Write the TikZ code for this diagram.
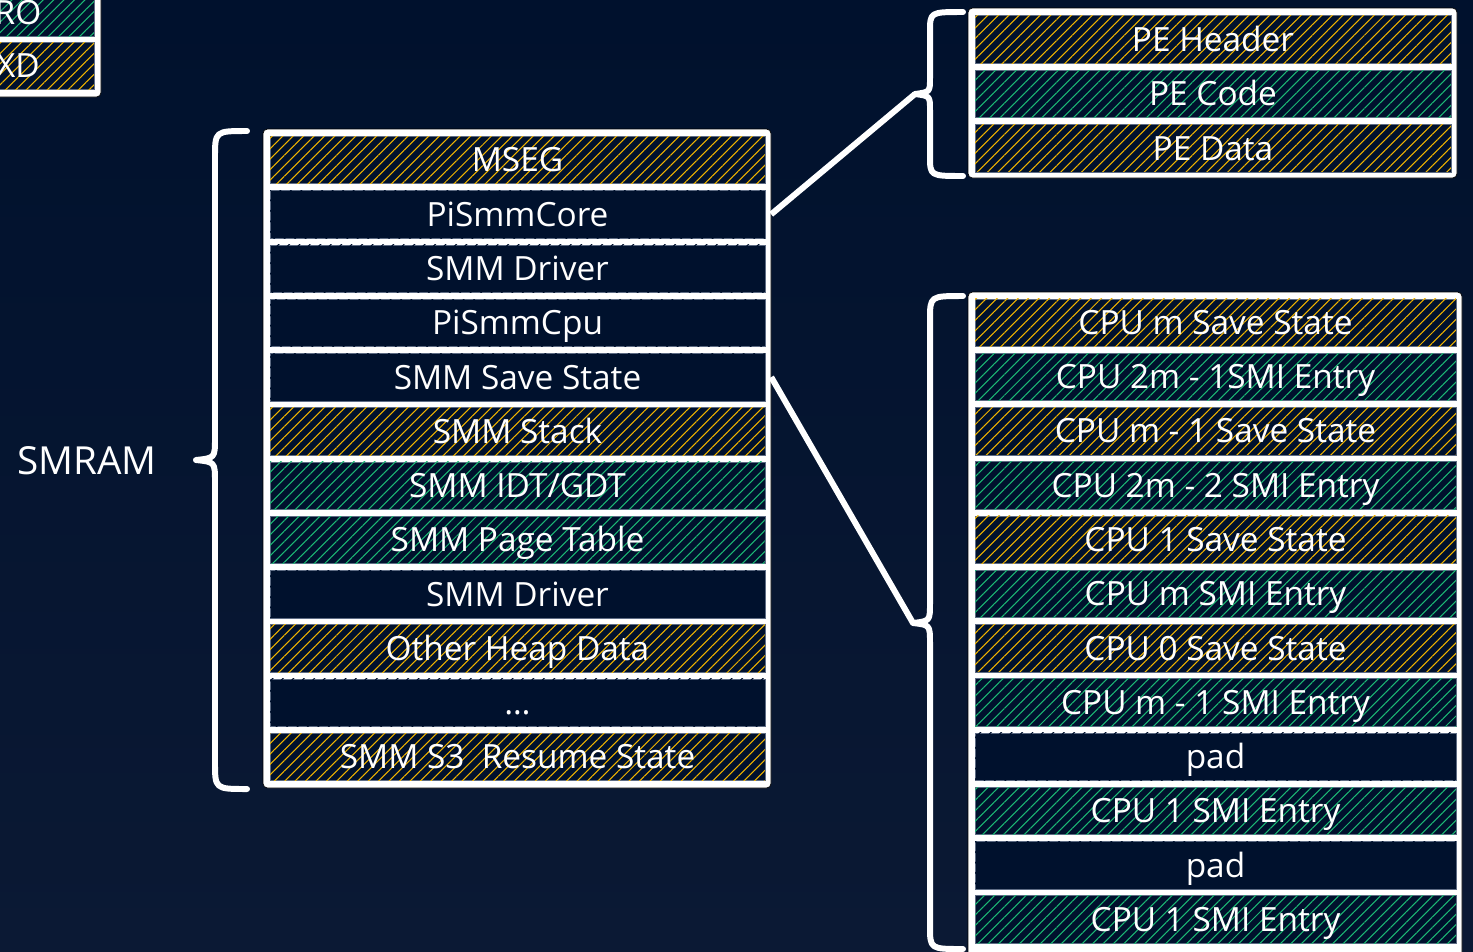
\documentclass[tikz,border=0pt]{standalone}
\usepackage{fontspec}
\setmainfont{Open Sans}
\usetikzlibrary{patterns.meta}
\definecolor{navy}{HTML}{00112D}
\definecolor{navylow}{HTML}{0B1934}
\definecolor{xdline}{HTML}{F0B400}
\definecolor{roline}{HTML}{1CB874}
\definecolor{celledge}{HTML}{5E6C84}

\tikzset{
  cell/.style={draw=celledge,line width=0.3pt,fill=navy,text=white,
    font=\fontsize{19}{21}\selectfont,minimum height=0.95cm,inner sep=0pt,
    text height=13.6pt,text depth=0pt,
    postaction={pattern={Lines[angle=45,distance=4.2pt,line width=0.6pt]},pattern color=#1}},
  cell/.default=navy,
  frame/.style={fill=white,rounded corners=2.5pt},
  brace/.style={draw=white,line width=3.4pt,line cap=round,line join=round},
  link/.style={draw=white,line width=3.4pt},
}

\begin{document}
\begin{tikzpicture}[x=0.02cm,y=-0.02cm]
  \useasboundingbox (0,0) rectangle (1473,951);
  \shade[top color=navy,bottom color=navylow] (0,0) rectangle (1473,951);
  \clip (0,0) rectangle (1473,951);

  % cut-off legend, top left
  \draw[frame] (-60,-40) rectangle (101,97);
  \node[cell=roline,minimum width=3.04cm] (ro) at (18,13) {RO};
  \node[cell=xdline,minimum width=3.04cm] (xd) at (18,66) {XD};

  % SMRAM map
  \node[text=white,font=\fontsize{22}{26}\selectfont] (smram) at (87,461) {SMRAM};
  \draw[brace] (247,131) .. controls (215,131) .. (215,158) -- (215,438)
    .. controls (215,458) .. (196,460) .. controls (215,462) .. (215,482)
    -- (215,762) .. controls (215,789) .. (247,789);
  \draw[frame] (263,129) rectangle (771,788);
  \foreach \t/\c [count=\i] in {MSEG/xdline,PiSmmCore/navy,SMM Driver/navy,
      PiSmmCpu/navy,SMM Save State/navy,SMM Stack/xdline,{SMM IDT/GDT}/roline,
      SMM Page Table/roline,SMM Driver/navy,Other Heap Data/xdline,{\dots}/navy,
      SMM S3~ Resume State/xdline}
    \node[cell=\c,minimum width=9.9cm] (L\i) at (517.5,{160+(\i-1)*54.27}) {\t};

  % PE image
  \draw[brace] (963,12) .. controls (930,12) .. (930,32) -- (930,78)
    .. controls (930,92) .. (915,94) coordinate (petip)
    .. controls (930,96) .. (930,110) -- (930,156) .. controls (930,176) .. (963,176);
  \draw[frame] (968,8) rectangle (1457,178);
  \foreach \t/\c [count=\i] in {PE Header/xdline,PE Code/roline,PE Data/xdline}
    \node[cell=\c,minimum width=9.52cm] (P\i) at (1213,{39.5+(\i-1)*54.3}) {\t};

  % save state area
  \draw[brace] (963,296) .. controls (930,296) .. (930,320) -- (930,603)
    .. controls (930,621) .. (913,623) coordinate (cputip)
    .. controls (930,625) .. (930,643) -- (930,926) .. controls (930,949) .. (963,949);
  \draw[frame] (968,292) rectangle (1462,970);
  \foreach \t/\c [count=\i] in {CPU m Save State/xdline,CPU 2m - 1SMI Entry/roline,
      CPU m - 1 Save State/xdline,CPU 2m - 2 SMI Entry/roline,
      CPU 1 Save State/xdline,CPU m SMI Entry/roline,CPU 0 Save State/xdline,
      CPU m - 1 SMI Entry/roline,pad/navy,CPU 1 SMI Entry/roline,pad/navy,
      CPU 1 SMI Entry/roline}
    \node[cell=\c,minimum width=9.62cm] (C\i) at (1215.5,{322.5+(\i-1)*54.27}) {\t};

  \draw[link] (L2.east) ++(6,0) -- (petip);
  \draw[link] (L5.east) ++(6,0) -- (cputip);
\end{tikzpicture}
\end{document}
